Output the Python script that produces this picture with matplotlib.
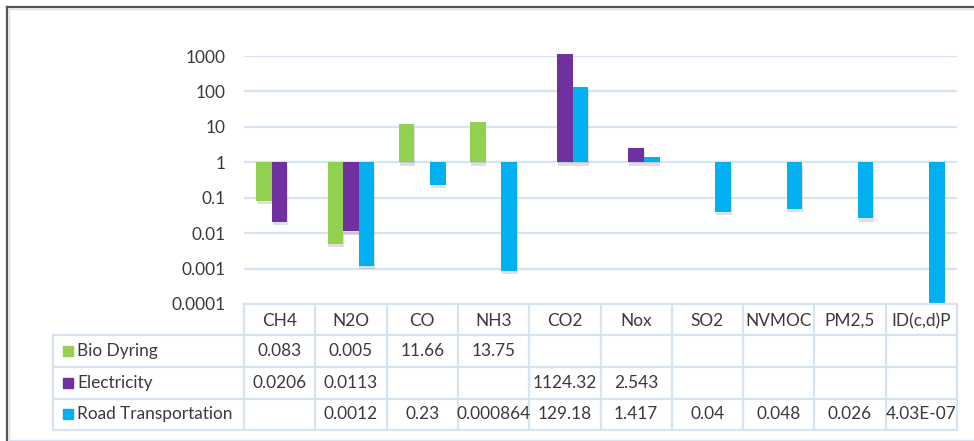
import numpy as np
import matplotlib.pyplot as plt
from matplotlib import patheffects
from matplotlib.lines import Line2D
from matplotlib.patches import Rectangle
from matplotlib.ticker import FuncFormatter, FixedLocator

plt.rcParams['font.family'] = ['Lato', 'DejaVu Sans']

categories = ["CH4", "N2O", "CO", "NH3", "CO2", "Nox", "SO2", "NVMOC", "PM2,5", "ID(c,d)P"]
series_names = ["Bio Dyring", "Electricity", "Road Transportation"]
bio_drying = [0.083, 0.005, 11.66, 13.75, None, None, None, None, None, None]
electricity = [0.0206, 0.0113, None, None, 1124.32, 2.543, None, None, None, None]
road_transport = [None, 0.0012, 0.23, 0.000864, 129.18, 1.417, 0.04, 0.048, 0.026, 4.03e-07]
y_ticks = [0.0001, 0.001, 0.01, 0.1, 1, 10, 100, 1000]

colors = ["#92D050", "#7030A0", "#00B0F0"]
grid_col = "#D6E3F3"
text_col = "#3A3A3A"
fs = 12.4

W, H = 974, 441
fig = plt.figure(figsize=(W / 100, H / 100), dpi=100)

def fx(px):
    return px / W

def fy(py):
    return 1 - py / H

# outer frame: dark top/left edge plus light inner border
fig.add_artist(Line2D([fx(7), 1], [fy(7), fy(7)], color="#555555", lw=1.6))
fig.add_artist(Line2D([fx(7), fx(7)], [fy(7), 0], color="#555555", lw=1.6))
fig.add_artist(Rectangle((fx(9), fy(440)), 1, fy(9) - fy(440), fill=False,
                         edgecolor=grid_col, lw=1.0))

# bar chart area
ax = fig.add_axes([fx(244), fy(304), fx(957) - fx(244), fy(56) - fy(304)])
ax.set_yscale("log")
ax.set_ylim(1e-4, 1e3)
ax.set_xlim(-0.5, len(categories) - 0.5)
ax.yaxis.set_major_locator(FixedLocator(y_ticks))
ax.yaxis.set_minor_locator(FixedLocator([]))
ax.yaxis.set_major_formatter(FuncFormatter(lambda v, pos: f"{v:g}"))
ax.tick_params(axis="y", length=0, pad=13, labelsize=fs, labelcolor=text_col)
ax.set_xticks([])
for s in ax.spines.values():
    s.set_visible(False)
ax.grid(axis="y", color=grid_col, lw=1.6)
ax.set_axisbelow(True)

bw = 0.219
shadow = [patheffects.SimplePatchShadow(offset=(0.5, -2.5), shadow_rgbFace="#707070", alpha=0.22),
          patheffects.Normal()]
for j, vals in enumerate([bio_drying, electricity, road_transport]):
    for i, v in enumerate(vals):
        if v is None:
            continue
        b = ax.bar(i + (j - 1) * bw, v - 1, bottom=1, width=bw, color=colors[j], zorder=3)
        for p in b:
            p.set_path_effects(shadow)
            # values above the top tick poke out of the plot area, as in Excel
            p.set_clip_on(v < 1)

# data table below the chart
tx0 = -0.5 - 191 / 71.3
tab = fig.add_axes([fx(53), fy(430), fx(957) - fx(53), fy(304) - fy(430)])
tab.set_xlim(tx0, len(categories) - 0.5)
tab.set_ylim(4, 0)
tab.axis("off")
row_edges = [0, 0.98, 2.0, 3.0, 4.0]
lkw = dict(color=grid_col, lw=1.6, clip_on=False)
ncat = len(categories)
tab.plot([-0.5, ncat - 0.5], [0, 0], **lkw)
for r in row_edges[1:]:
    tab.plot([tx0, ncat - 0.5], [r, r], **lkw)
for k in range(ncat + 1):
    tab.plot([k - 0.5, k - 0.5], [0, 4], **lkw)
tab.plot([tx0, tx0], [row_edges[1], 4], **lkw)

def fmt(v):
    return "" if v is None else f"{v:G}"

for i, c in enumerate(categories):
    tab.text(i, (row_edges[0] + row_edges[1]) / 2 + 0.05, c, ha="center", va="center",
             fontsize=fs, color=text_col)
for j, (name, vals) in enumerate(zip(series_names, [bio_drying, electricity, road_transport])):
    yc = (row_edges[j + 1] + row_edges[j + 2]) / 2
    tab.add_patch(Rectangle((tx0 + 0.14, yc - 0.16), 0.14, 0.32, color=colors[j], clip_on=False))
    tab.text(tx0 + 0.337, yc, name, ha="left", va="center", fontsize=fs, color=text_col)
    for i, v in enumerate(vals):
        tab.text(i, yc, fmt(v), ha="center", va="center", fontsize=fs, color=text_col)

fig.savefig("out.png", dpi=100)
